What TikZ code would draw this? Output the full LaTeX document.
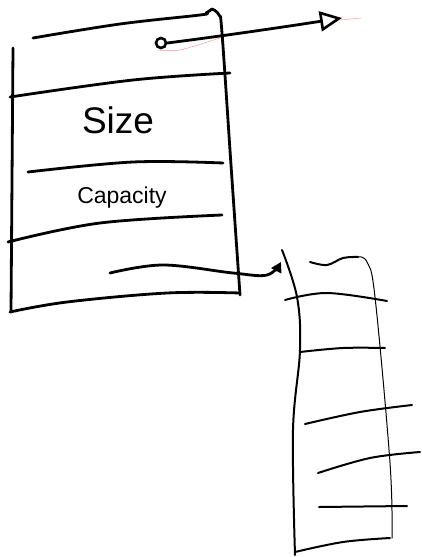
\documentclass[tikz,border=0pt]{standalone}
\usepackage{fontspec}
\setmainfont{Liberation Sans}
\usetikzlibrary{arrows.meta}
\tikzset{
  thick pen/.style={line width=2.8pt,line cap=round,line join=round},
  mid pen/.style={line width=2pt,line cap=round,line join=round},
  thin pen/.style={line width=1pt,line cap=round,line join=round},
  label text/.style={inner sep=0pt,font=\fontsize{#1}{#1}\selectfont},
  faint/.style={line width=0.5pt,color=red!40}
}
\begin{document}
\begin{tikzpicture}[x=1pt,y=-1pt]
\useasboundingbox (0,0) rectangle (421,557);
% ---- left box ----
\draw[thick pen] plot[smooth,tension=0.6] coordinates {(33,38) (120,24) (200,15) (206,13) (212,9)};
\draw[thick pen] plot[smooth,tension=0.6] coordinates {(212,9) (219,15) (222,33) (231,165) (240,295)};
\draw[thick pen] plot[smooth,tension=0.6] coordinates {(240,293) (167,293) (67,302) (10,312)};
\draw[thick pen] plot[smooth,tension=0.6] coordinates {(13,48) (12,180) (11,312)};
\draw[thick pen] plot[smooth,tension=0.6] coordinates {(10,97) (133,80) (230,73)};
\draw[thick pen] plot[smooth,tension=0.6] coordinates {(28,172) (133,162) (223,163)};
\draw[thick pen] plot[smooth,tension=0.6] coordinates {(8,242) (100,223) (222,215)};
\node[label text=37] (size) at (118,120) {Size};
\node[label text=23] (cap) at (122,198) {Capacity};
% ---- pointer ----
\node[draw,circle,line width=2.6pt,minimum size=10pt,inner sep=0pt] (ptr) at (161,43) {};
\coordinate (ptrend) at (342,18);
\draw[faint] plot[smooth] coordinates {(158,50) (180,50) (220,38)};
\draw[faint] (340,20) -- (361,18);
\draw[thick pen,-{Triangle[open,length=22pt,width=20pt,line width=2.6pt]}]
  (ptr.east) .. controls (230,35) and (290,26) .. (ptrend);
% ---- link arrow ----
\coordinate (linkstart) at (110,273);
\coordinate (linkend) at (281,262);
\draw[thick pen,-{Triangle[open,length=10pt,width=11pt,line width=2.6pt]}]
  plot[smooth,tension=0.6] coordinates {(linkstart) (163,265) (233,273) (267,275) (linkend)};
% ---- right box ----
\draw[mid pen] plot[smooth,tension=0.6] coordinates {(282,250) (297,297) (300,350) (293,430) (295,555)};
\draw[mid pen] plot[smooth,tension=0.6] coordinates {(310,262) (327,265) (343,258) (358,257)};
\draw[thin pen] plot[smooth,tension=0.6] coordinates {(358,257) (367,262) (375,297) (390,463) (392,538)};
\draw[mid pen] plot[smooth,tension=0.6] coordinates {(295,552) (343,542) (390,538)};
\draw[mid pen] plot[smooth,tension=0.6] coordinates {(285,300) (327,293) (387,301)};
\draw[mid pen] plot[smooth,tension=0.6] coordinates {(300,352) (343,348) (385,348)};
\draw[mid pen] plot[smooth,tension=0.6] coordinates {(305,424) (360,412) (412,405)};
\draw[mid pen] plot[smooth,tension=0.6] coordinates {(318,473) (370,458) (420,452)};
\draw[mid pen] (319,507) -- (407,506);
\end{tikzpicture}
\end{document}
